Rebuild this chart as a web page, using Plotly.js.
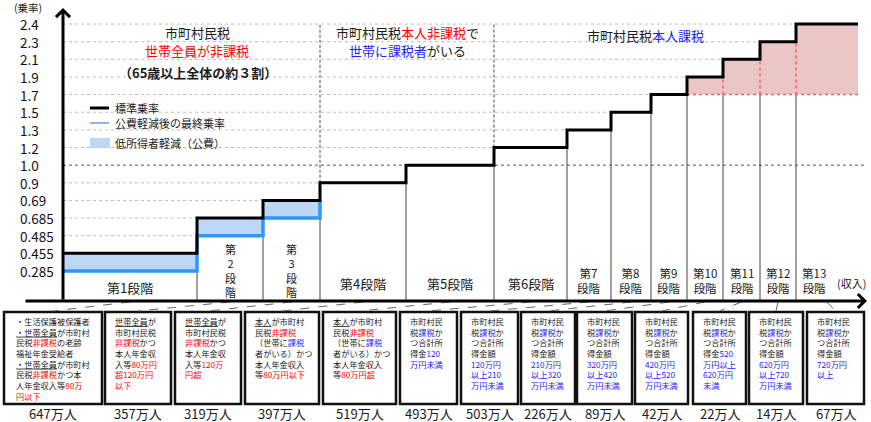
<!DOCTYPE html>
<html>
<head>
<meta charset="utf-8">
<script src="https://cdn.plot.ly/plotly-3.0.1.min.js"></script>
<style>
  html, body { margin: 0; padding: 0; background: #fff; }
  #chart { width: 871px; height: 422px; }
</style>
</head>
<body>
<div id="chart"></div>
<script>
// ---- data ----
const tickRates = [0.285, 0.455, 0.485, 0.685, 0.69, 0.9, 1.0, 1.2, 1.3, 1.5, 1.7, 1.9, 2.1, 2.3, 2.4];
const tickLabels = ['0.285', '0.455', '0.485', '0.685', '0.69', '0.9', '1.0', '1.2', '1.3', '1.5', '1.7', '1.9', '2.1', '2.3', '2.4'];
const stageNames = ['第1段階', '第2段階', '第3段階', '第4段階', '第5段階', '第6段階', '第7段階',
  '第8段階', '第9段階', '第10段階', '第11段階', '第12段階', '第13段階'];
const standardRate = [0.455, 0.685, 0.69, 0.9, 1.0, 1.2, 1.3, 1.5, 1.7, 1.9, 2.1, 2.3, 2.4];
const reducedRate = [0.285, 0.485, 0.685];   // 公費軽減後 (第1〜3段階)
const population = [647, 357, 319, 397, 519, 493, 503, 226, 89, 42, 22, 14, 67];   // 万人
const highBase = 1.7;          // 第10段階以上の網掛けの下端
const highFrom = 9;            // 第10段階 (0始まり)

const R = s => '<span style="color:#ff0000">' + s + '</span>';
const B = s => '<span style="color:#2222ff">' + s + '</span>';
const U = s => '<span style="text-decoration:underline">' + s + '</span>';
const conditions = [
  '・生活保護被保護者<br>' + U('・世帯全員') + 'が市町村<br>民税' + R('非課税') + 'の老齢<br>福祉年金受給者<br>' +
    U('・世帯全員') + 'が市町村<br>民税' + R('非課税') + 'かつ本<br>人年金収入等' + R('80万') + '<br>' + R('円以下'),
  U('世帯全員') + 'が<br>市町村民税<br>' + R('非課税') + 'かつ<br>本人年金収<br>入等' + R('80万円') + '<br>' + R('超120万円') + '<br>' + R('以下'),
  U('世帯全員') + 'が<br>市町村民税<br>' + R('非課税') + 'かつ<br>本人年金収<br>入等' + R('120万') + '<br>' + R('円超'),
  U('本人') + 'が市町村<br>民税' + R('非課税') + '<br>（世帯に' + B('課税') + '<br>者がいる）かつ<br>本人年金収入<br>等' + R('80万円以下'),
  U('本人') + 'が市町村<br>民税' + R('非課税') + '<br>（世帯に' + B('課税') + '<br>者がいる）かつ<br>本人年金収入<br>等' + R('80万円超'),
  '市町村民<br>税' + B('課税') + 'か<br>つ合計所<br>得金' + B('120') + '<br>' + B('万円未満'),
  '市町村民<br>税' + B('課税') + 'か<br>つ合計所<br>得金額<br>' + B('120万円') + '<br>' + B('以上210') + '<br>' + B('万円未満'),
  '市町村民<br>税' + B('課税') + 'か<br>つ合計所<br>得金額<br>' + B('210万円') + '<br>' + B('以上320') + '<br>' + B('万円未満'),
  '市町村民<br>税' + B('課税') + 'か<br>つ合計所<br>得金額<br>' + B('320万円') + '<br>' + B('以上420') + '<br>' + B('万円未満'),
  '市町村民<br>税' + B('課税') + 'か<br>つ合計所<br>得金額<br>' + B('420万円') + '<br>' + B('以上520') + '<br>' + B('万円未満'),
  '市町村民<br>税' + B('課税') + 'か<br>つ合計所<br>得金' + B('520') + '<br>' + B('万円以上') + '<br>' + B('620万円') + '<br>' + B('未満'),
  '市町村民<br>税' + B('課税') + 'か<br>つ合計所<br>得金額<br>' + B('620万円') + '<br>' + B('以上720') + '<br>' + B('万円未満'),
  '市町村民<br>税' + B('課税') + 'か<br>つ合計所<br>得金額<br>' + B('720万円') + '<br>' + B('以上')
];

// ---- layout geometry (pixel based) ----
const stageEdges = [63, 197, 263, 320, 406, 494, 567, 611, 651, 687, 723, 760, 796, 858];
const labelStyle = ['row', 'col', 'col', 'row', 'row', 'row', 'two', 'two', 'two', 'two', 'two', 'two', 'two'];
const boxLeft = [4, 105, 175, 245, 323, 400, 461, 521, 577, 635, 693, 749, 807];
const boxRight = [102, 171, 241, 319, 396, 457, 518, 575, 632, 688, 746, 803, 864];
const Y0PX = 271, STEP_PX = 17.64, H = 422;
const py2i = py => (Y0PX - py) / STEP_PX;
const pp = py => 1 - py / H;
const yi = r => tickRates.indexOf(r);
const FONT = 'Noto Sans CJK JP, sans-serif';

const axisY = py2i(301);
const n = standardRate.length;
const finalRate = standardRate.map((r, i) => i < reducedRate.length ? reducedRate[i] : r);
const stepX = stageEdges;
const stepY = standardRate.concat([standardRate[n - 1]]).map(yi);

const traces = [];
// white columns under the step line (hide grid lines)
traces.push({x: stepX, y: stepX.map(() => axisY), mode: 'lines', line: {width: 0}, hoverinfo: 'skip'});
traces.push({x: stepX, y: stepY, mode: 'lines', line: {width: 0, shape: 'hv'}, fill: 'tonexty',
  fillcolor: '#ffffff', hoverinfo: 'skip'});

// column separators
const colX = [], colY = [];
for (let i = 1; i < n; i++) {
  colX.push(stageEdges[i], stageEdges[i], null);
  colY.push(axisY, yi(Math.min(finalRate[i - 1], finalRate[i])), null);
}
traces.push({x: colX, y: colY, mode: 'lines', line: {color: '#808080', width: 1.5}, hoverinfo: 'skip'});

// high stages shading
const hiX = stageEdges.slice(highFrom);
const hiY = standardRate.slice(highFrom).concat([standardRate[n - 1]]).map(yi);
traces.push({x: hiX, y: hiX.map(() => yi(highBase)), mode: 'lines', line: {width: 0}, hoverinfo: 'skip'});
traces.push({x: hiX, y: hiY, mode: 'lines', line: {width: 0, shape: 'hv'}, fill: 'tonexty',
  fillcolor: '#ebc6c6', hoverinfo: 'skip'});
const redX = [hiX[0], hiX[hiX.length - 1], null], redY = [yi(highBase), yi(highBase), null];
for (let i = highFrom + 1; i < n; i++) {
  redX.push(stageEdges[i], stageEdges[i], null);
  redY.push(yi(highBase), yi(Math.min(standardRate[i - 1], standardRate[i])), null);
}
traces.push({x: redX, y: redY, mode: 'lines', line: {color: '#ff5a5a', width: 1.5, dash: 'dot'}, hoverinfo: 'skip'});

// low-income reduction (public subsidy)
const m = reducedRate.length;
const lowX = stageEdges.slice(0, m + 1);
const lowY = reducedRate.concat([standardRate[m - 1]]).map(yi);
const lowTop = standardRate.slice(0, m).concat([standardRate[m - 1]]).map(yi);
traces.push({x: lowX, y: lowY, mode: 'lines', line: {width: 0, shape: 'hv'}, hoverinfo: 'skip'});
traces.push({x: lowX, y: lowTop, mode: 'lines', line: {width: 0, shape: 'hv'}, fill: 'tonexty',
  fillcolor: '#bdd7f7', hoverinfo: 'skip'});
traces.push({x: lowX, y: lowY, mode: 'lines', line: {color: '#2e96ff', width: 3.5, shape: 'hv'}, hoverinfo: 'skip'});

// 1.0 reference line
traces.push({x: [stageEdges[0], 866], y: [yi(1.0), yi(1.0)], mode: 'lines',
  line: {color: '#555555', width: 1, dash: 'dot'}, hoverinfo: 'skip'});
// group separators
traces.push({x: [stageEdges[3], stageEdges[3], null, stageEdges[5], stageEdges[5]],
  y: [yi(standardRate[3]), yi(2.4), null, yi(standardRate[5]), yi(2.4)], mode: 'lines',
  line: {color: '#444444', width: 1, dash: '3px,2px'}, hoverinfo: 'skip'});
// standard rate step line
traces.push({x: stepX, y: stepY, mode: 'lines', line: {color: '#000000', width: 3, shape: 'hv'}, hoverinfo: 'skip'});

const shapes = [];
// grid lines
tickRates.forEach(r => {
  if (r === 1.0) return;
  shapes.push({type: 'line', layer: 'below', xref: 'x', yref: 'y', x0: stageEdges[0], x1: stageEdges[n],
    y0: yi(r), y1: yi(r), line: {color: '#bdbdbd', width: 1, dash: 'dot'}});
});
// legend
shapes.push({type: 'line', xref: 'x', yref: 'paper', x0: 90, x1: 109, y0: pp(108), y1: pp(108), line: {color: '#000', width: 3}});
shapes.push({type: 'line', xref: 'x', yref: 'paper', x0: 90, x1: 109, y0: pp(123), y1: pp(123), line: {color: '#8db8e8', width: 2}});
shapes.push({type: 'rect', xref: 'x', yref: 'paper', x0: 90, x1: 110, y0: pp(148), y1: pp(138), fillcolor: '#bdd7f7', line: {width: 0}});
// condition boxes and connectors
for (let i = 0; i < n; i++) {
  shapes.push({type: 'rect', xref: 'x', yref: 'paper', x0: boxLeft[i], x1: boxRight[i], y0: pp(404), y1: pp(312),
    line: {color: '#111', width: 2.5}});
  const sc = (stageEdges[i] + stageEdges[i + 1]) / 2, bc = (boxLeft[i] + boxRight[i]) / 2;
  shapes.push({type: 'line', xref: 'x', yref: 'paper', x0: sc, x1: bc, y0: pp(302), y1: pp(311),
    line: {color: '#666', width: 1, dash: 'dash'}});
}

const annotations = [];
const txt = (x, py, text, size, opts) => Object.assign({x: x, y: pp(py), xref: 'x', yref: 'paper', text: text,
  xanchor: 'center', yanchor: 'middle', showarrow: false,
  font: {family: FONT, size: size, color: '#1a1a1a'}}, opts || {});
// axes with arrows
annotations.push({x: stageEdges[0], y: py2i(8), ax: stageEdges[0], ay: axisY, xref: 'x', yref: 'y', axref: 'x', ayref: 'y',
  text: '', showarrow: true, arrowhead: 4, arrowsize: 0.9, arrowwidth: 3, arrowcolor: '#000'});
annotations.push({x: 867, y: axisY, ax: 24, ay: axisY, xref: 'x', yref: 'y', axref: 'x', ayref: 'y',
  text: '', showarrow: true, arrowhead: 4, arrowsize: 0.9, arrowwidth: 3, arrowcolor: '#000'});
// y tick labels
tickRates.forEach((r, i) => {
  annotations.push({x: 18, y: yi(r), xref: 'x', yref: 'y', xanchor: 'left', yanchor: 'middle', text: tickLabels[i],
    showarrow: false, font: {family: FONT, size: 13.5, color: '#111'}});
});
annotations.push(txt(12, 8, '(乗率)', 10.5, {xanchor: 'left'}));
annotations.push(txt(851, 283, '(収入)', 11));
// group headings
annotations.push(txt(197, 33, '市町村民税', 13));
annotations.push(txt(197, 51, R('世帯全員が非課税'), 13));
annotations.push(txt(198, 72, '<b>（65歳以上全体の約３割）</b>', 13));
annotations.push(txt(407, 33, '市町村民税' + R('本人非課税') + 'で', 13));
annotations.push(txt(407, 51, B('世帯に課税者') + 'がいる', 13));
annotations.push(txt(645, 35, '市町村民税' + B('本人課税'), 13));
// legend text
annotations.push(txt(113, 108, '標準乗率', 11, {xanchor: 'left'}));
annotations.push(txt(113, 123, '公費軽減後の最終乗率', 11, {xanchor: 'left'}));
annotations.push(txt(113, 143, '低所得者軽減（公費）', 11, {xanchor: 'left'}));
// stage labels
stageNames.forEach((s, i) => {
  let cx = (stageEdges[i] + stageEdges[i + 1]) / 2;
  if (i === n - 1) cx = stageEdges[i] + 18;
  if (labelStyle[i] === 'row') annotations.push(txt(cx, i === 0 ? 287 : 283, s, 13));
  else if (labelStyle[i] === 'col') annotations.push(txt(cx, 270, s.split('').join('<br>'), 11));
  else annotations.push(txt(cx, 280, s.replace('段階', '<br>段階'), 11.5));
});
// box texts and populations
conditions.forEach((c, i) => {
  annotations.push(txt(boxLeft[i] + (i === 0 ? 10 : 8), 313, c, 8.2, {xanchor: 'left', yanchor: 'top', align: 'left'}));
  annotations.push(txt((boxLeft[i] + boxRight[i]) / 2, 413, population[i] + '万人', 13));
});

const layout = {
  width: 871, height: 422,
  margin: {l: 0, r: 0, t: 0, b: 0},
  paper_bgcolor: '#fff', plot_bgcolor: '#fff',
  showlegend: false,
  xaxis: {range: [0, 871], visible: false, fixedrange: true},
  yaxis: {range: [py2i(H), py2i(0)], visible: false, fixedrange: true},
  shapes: shapes,
  annotations: annotations
};

Plotly.newPlot('chart', traces, layout, {staticPlot: true});
</script>
</body>
</html>
